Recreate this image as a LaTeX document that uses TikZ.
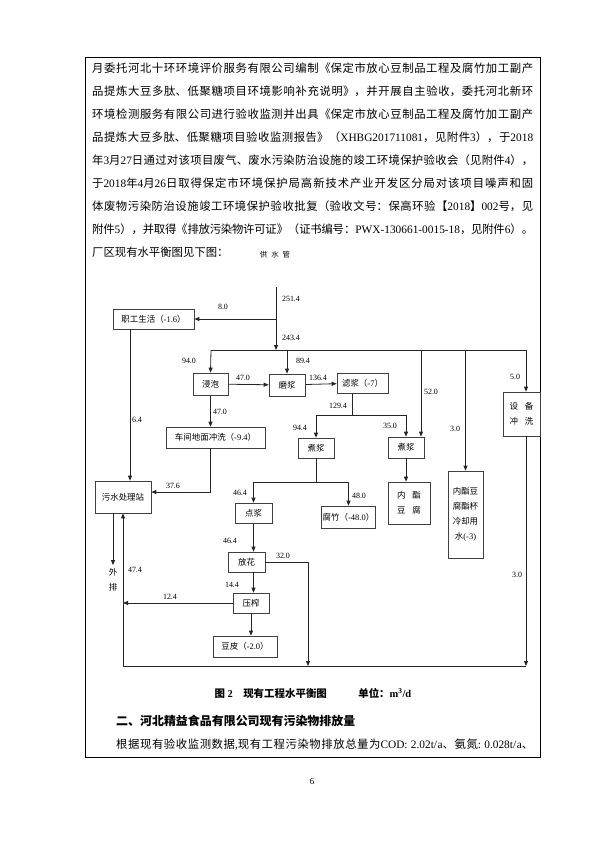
\documentclass[tikz,border=0pt]{standalone}
\usepackage{fontspec}
\setmainfont{Noto Sans CJK SC}
\newfontfamily\timesf{Liberation Serif}
\usetikzlibrary{positioning,arrows.meta}
\XeTeXlinebreaklocale "zh"
\XeTeXlinebreakskip=0pt plus 2pt minus 0.4pt
\XeTeXlinebreakpenalty=10000
\hyphenpenalty=10000
\exhyphenpenalty=10000
\newcommand{\en}[1]{{\timesf #1}}
\newcommand{\bodyfont}{\fontsize{11.4pt}{14pt}\selectfont}
\newcommand{\boxfont}{\fontsize{8.5pt}{15pt}\selectfont}
\newcommand{\numfont}{\fontsize{8pt}{9pt}\selectfont\timesf}

\begin{document}
\begin{tikzpicture}[x=1bp, y=-1bp,
  box/.style={rectangle, draw=black!75, line width=0.7bp, inner sep=1bp,
              align=center, font=\boxfont},
  arr/.style={-{Triangle[length=5bp,width=4bp]}, line width=0.8bp, black!85},
  pipe/.style={line width=0.8bp, black!85},
  num/.style={font=\numfont, inner sep=0.5bp},
  txt/.style={anchor=west, inner sep=0pt, text width=441bp, align=justify,
              font=\bodyfont},
]

% page and table cell
\fill[white] (0,0) rectangle (595,841);
\draw[line width=0.7bp] (85,57) rectangle (540,757);

% text above the figure
\node[txt] (l1) at (92,68) {\parfillskip=0pt 月委托河北十环环境评价服务有限公司编制《保定市放心豆制品工程及腐竹加工副产\par};
\node[txt] (l2) at (92,91) {\parfillskip=0pt 品提炼大豆多肽、低聚糖项目环境影响补充说明》，并开展自主验收，委托河北新环\par};
\node[txt] (l3) at (92,114) {\parfillskip=0pt 环境检测服务有限公司进行验收监测并出具《保定市放心豆制品工程及腐竹加工副产\par};
\node[txt] (l4) at (92,137) {\parfillskip=0pt 品提炼大豆多肽、低聚糖项目验收监测报告》（\en{XHBG201711081}，见附件\en{3}），于\en{2018}\par};
\node[txt] (l5) at (92,160) {\parfillskip=0pt 年\en{3}月\en{27}日通过对该项目废气、废水污染防治设施的竣工环境保护验收会（见附件\en{4}），\par};
\node[txt] (l6) at (92,183) {\parfillskip=0pt 于\en{2018}年\en{4}月\en{26}日取得保定市环境保护局高新技术产业开发区分局对该项目噪声和固\par};
\node[txt] (l7) at (92,206) {\parfillskip=0pt 体废物污染防治设施竣工环境保护验收批复（验收文号：保高环验【\en{2018}】\en{002}号，见\par};
\node[txt] (l8) at (92,229) {\parfillskip=0pt 附件\en{5}），并取得《排放污染物许可证》（证书编号：\en{PWX-130661-0015-18}，见附件\en{6}）。\par};
\node[txt] (l9) at (92,252) {厂区现有水平衡图见下图：};

% supply pipe
\node[font=\fontsize{7.5pt}{9pt}\selectfont] (pipelbl) at (275,255) {供\hspace{4pt}水\hspace{4pt}管};
\coordinate (top) at (276,287);
\coordinate (jbus) at (276,350);
\coordinate (busL) at (211,350);
\coordinate (busR) at (526,350);
\coordinate (b52) at (421,350);

% process boxes
\node[box, minimum width=81bp, minimum height=20bp] (work) at (153.5,319) {职工生活（\en{-1.6}）};
\node[box, minimum width=35bp, minimum height=22bp] (soak) at (210.5,384) {浸泡};
\node[box, minimum width=36bp, minimum height=22bp] (grind) at (287,385) {磨浆};
\node[box, minimum width=51bp, minimum height=20bp] (filter) at (362.5,383) {滤浆（\en{-7}）};
\node[box, minimum width=37bp, minimum height=44bp] (wash) at (521.5,414) {设\hspace{0.8em}备\\冲\hspace{0.8em}洗};
\node[box, minimum width=99bp, minimum height=21bp] (floor) at (215.5,437.5) {车间地面冲洗（\en{-9.4}）};
\node[box, minimum width=36bp, minimum height=20bp] (boilL) at (316,448) {煮浆};
\node[box, minimum width=36bp, minimum height=21bp] (boilR) at (406,447.5) {煮浆};
\node[box, minimum width=56bp, minimum height=32bp] (sewage) at (123,497) {污水处理站};
\node[box, minimum width=37bp, minimum height=20bp] (curd) at (253.5,513) {点浆};
\node[box, minimum width=53bp, minimum height=22bp] (yuba) at (348.5,517) {腐竹（\en{-48.0}）};
\node[box, minimum width=42bp, minimum height=42bp] (tofu) at (409,503) {内\hspace{0.8em}酯\\豆\hspace{0.8em}腐};
\node[box, minimum width=35bp, minimum height=87bp] (cool) at (465.5,514.5) {内酯豆\\腐酯杯\\冷却用\\水\en{(-3)}};
\node[box, minimum width=37bp, minimum height=20bp] (flower) at (246.5,562) {放花};
\node[box, minimum width=36bp, minimum height=20bp] (press) at (251,603) {压榨};
\node[box, minimum width=64bp, minimum height=21bp] (skin) at (245,646.5) {豆皮（\en{-2.0}）};
\node[font=\boxfont, align=center] (outfall) at (113,580) {外\\排};

% supply and main bus
\draw[pipe] (top) -- (top |- work.east);
\draw[arr] (top |- work.east) -- (work.east);
\draw[arr] (top |- work.east) -- (jbus);
\draw[pipe] (busL) -- (busR);
\draw[arr] (busL) -- (soak.north);
\draw[arr] (grind.north |- busL) -- (grind.north);
\draw[arr] (busR) -- (busR |- wash.north);
\draw[arr] (cool.north |- busR) -- (cool.north);
\draw[arr] (b52) -- (b52 |- boilR.north);

% soaking and grinding
\draw[arr] (soak) -- (grind);
\draw[arr] (grind) -- (filter);
\draw[arr] (soak.south) -- (soak.south |- floor.north);
\draw[arr] (soak.south |- floor.south) |- ([yshift=5bp]sewage.east);
\draw[arr] ([xshift=7bp]sewage.north |- work.south) -- ([xshift=7bp]sewage.north);

% boiling
\coordinate (j129) at ([xshift=-10bp,yshift=-22bp]filter.south);
\draw[pipe] (j129 |- filter.south) -- (j129);
\draw[arr] (j129) -| (boilL.north);
\draw[arr] (j129) -| (boilR.north);
\coordinate (j48) at ([yshift=-24bp]boilL.south);
\draw[pipe] (boilL.south) -- (j48);
\draw[arr] (j48) -| (curd.north);
\draw[arr] (j48) -| (yuba.north);
\draw[arr] (boilR.south) -- (boilR.south |- tofu.north);
\draw[arr] (curd.south) -- (curd.south |- flower.north);
\draw[arr] (curd.south |- flower.south) -- (curd.south |- press.north);
\draw[arr] (press.south) -- (press.south |- skin.north);

% return to the sewage station
\coordinate (cl) at (123,666);
\coordinate (cr) at (526,666);
\coordinate (c32) at (308,666);
\draw[pipe] (cl) -- (cr);
\draw[arr] (cl) -- (sewage.south);
\draw[arr] (busR |- wash.south) -- (cr);
\draw[arr] (flower.east) -| (c32);
\draw[arr] (press.west) -- (press.west -| cl);
\draw[arr] (sewage.south -| outfall) -- (outfall.north);

% flow values
\node[num] (n251) at (291,299) {251.4};
\node[num] (n8) at (223,307) {8.0};
\node[num] (n243) at (291,338) {243.4};
\node[num] (n94) at (189,361) {94.0};
\node[num] (n89) at (303,361) {89.4};
\node[num] (n47a) at (243,378) {47.0};
\node[num] (n136) at (318,378) {136.4};
\node[num] (n5) at (515,377) {5.0};
\node[num] (n52) at (431,392) {52.0};
\node[num] (n129) at (338,406) {129.4};
\node[num] (n47b) at (220,412) {47.0};
\node[num] (n6) at (137,420) {6.4};
\node[num] (n944) at (300,428) {94.4};
\node[num] (n35) at (390,426) {35.0};
\node[num] (n3a) at (455,429) {3.0};
\node[num] (n376) at (173,486) {37.6};
\node[num] (n464a) at (240,493) {46.4};
\node[num] (n48) at (359,496) {48.0};
\node[num] (n464b) at (230,541) {46.4};
\node[num] (n32) at (283,556) {32.0};
\node[num] (n474) at (135,570) {47.4};
\node[num] (n3b) at (517,575) {3.0};
\node[num] (n144) at (232,585) {14.4};
\node[num] (n124) at (170,597) {12.4};

% caption and text below
\node[font=\fontsize{10.5pt}{12pt}\selectfont\bfseries] (cap) at (313,693) {图 \en{2}\hspace{1em}现有工程水平衡图\hspace{3em}单位：\en{m\textsuperscript{3}/d}};
\node[anchor=west, inner sep=0pt, font=\fontsize{12pt}{14pt}\selectfont\bfseries] (sec2) at (116,721) {二、河北精益食品有限公司现有污染物排放量};
\node[txt, text width=417bp] (body2) at (116,745) {\parfillskip=0pt 根据现有验收监测数据\en{,}现有工程污染物排放总量为\en{COD:~2.02t/a}、氨氮\en{:~0.028t/a}、\par};
\node[font=\fontsize{9pt}{10pt}\selectfont\timesf] (pgno) at (312,782) {6};

\end{tikzpicture}
\end{document}
